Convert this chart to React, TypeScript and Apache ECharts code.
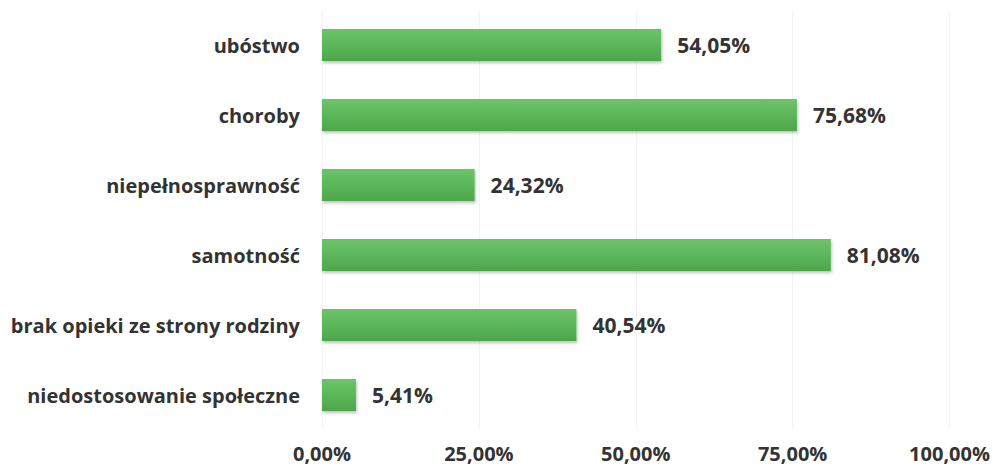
import React, { useEffect, useRef } from "react";
import * as echarts from "echarts";

const categories = [
  "ubóstwo",
  "choroby",
  "niepełnosprawność",
  "samotność",
  "brak opieki ze strony rodziny",
  "niedostosowanie społeczne",
];
const values = [54.05, 75.68, 24.32, 81.08, 40.54, 5.41];
const fmt = (v: number) => v.toFixed(2).replace(".", ",") + "%";

export default function App() {
  const ref = useRef<HTMLDivElement>(null);
  useEffect(() => {
    if (!ref.current) return;
    const chart = echarts.init(ref.current, null, { renderer: "svg" });
    const font = "'Open Sans', 'Noto Sans', sans-serif";
    chart.setOption({
      animation: false,
      backgroundColor: "#ffffff",
      grid: { left: 322, right: 42, top: 10, bottom: 36, containLabel: false },
      xAxis: {
        type: "value",
        min: 0,
        max: 100,
        interval: 25,
        axisLine: { show: false },
        axisTick: { show: false },
        splitLine: { show: true, lineStyle: { color: "#f3f3f3", width: 1 } },
        axisLabel: {
          formatter: (v: number) => fmt(v),
          color: "#333333",
          fontFamily: font,
          fontWeight: "bold",
          fontSize: 20,
          lineHeight: 20,
          margin: 13,
        },
      },
      yAxis: {
        type: "category",
        data: categories,
        inverse: true,
        axisLine: { show: false },
        axisTick: { show: false },
        axisLabel: {
          color: "#333333",
          fontFamily: font,
          fontWeight: "bold",
          fontSize: 20,
          margin: 22,
        },
      },
      series: [
        {
          type: "bar",
          data: values,
          barWidth: 32,
          itemStyle: {
            color: new echarts.graphic.LinearGradient(0, 0, 0, 1, [
              { offset: 0, color: "#6cc46a" },
              { offset: 0.5, color: "#5cb65a" },
              { offset: 1, color: "#4ea64c" },
            ]),
            shadowColor: "rgba(0,0,0,0.25)",
            shadowBlur: 3,
            shadowOffsetX: 1,
            shadowOffsetY: 2,
          },
          label: {
            show: true,
            position: "right",
            distance: 16,
            formatter: (p: any) => fmt(p.value),
            color: "#333333",
            fontFamily: font,
            fontWeight: "bold",
            fontSize: 21,
          },
        },
      ],
    });
    return () => chart.dispose();
  }, []);
  return <div ref={ref} style={{ width: 993, height: 466, position: "absolute", left: 0, top: 0 }} />;
}
